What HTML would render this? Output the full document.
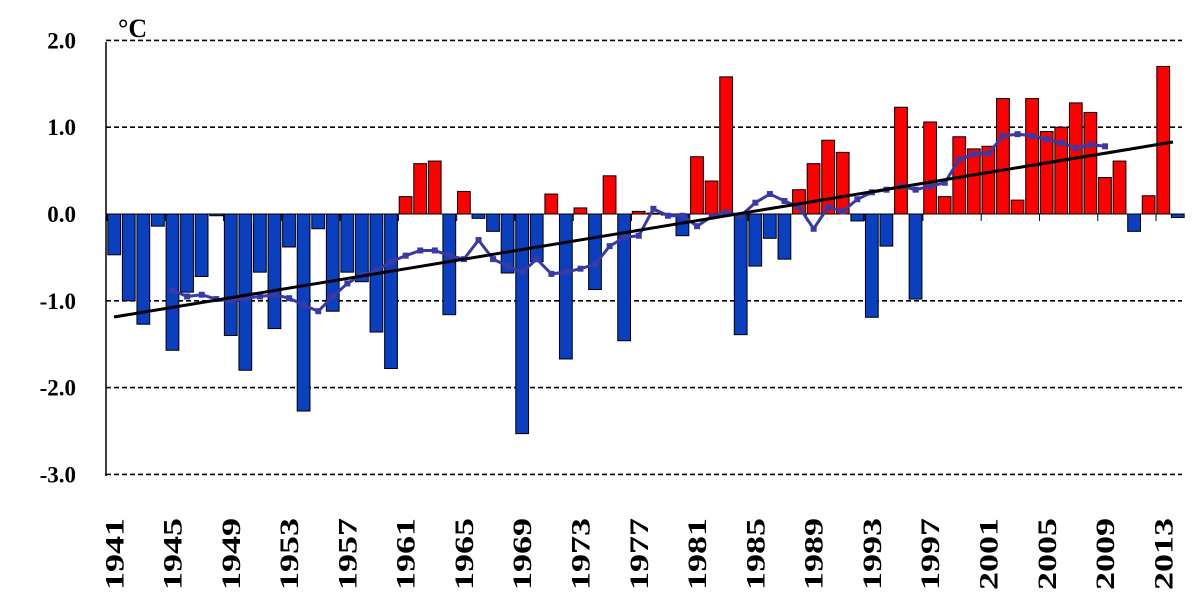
<!DOCTYPE html>
<html><head><meta charset="utf-8"><style>
html,body{margin:0;padding:0;background:#fff;}
svg{display:block;}
text{font-family:"Liberation Serif",serif;font-weight:bold;fill:#000;}
</style></head><body>
<svg id="c" width="1200" height="598" viewBox="0 0 1200 598" xmlns="http://www.w3.org/2000/svg"></svg>
<script>
const svg=document.getElementById('c');
const NS='http://www.w3.org/2000/svg';
function el(t,a,txt){const e=document.createElementNS(NS,t);for(const k in a)e.setAttribute(k,a[k]);if(txt!==undefined)e.textContent=txt;svg.appendChild(e);return e;}
const Z=214,S=86.8;
const y=v=>Z-v*S;
const X0=107,W=14.57;
[2,1,-1,-2,-3].forEach(v=>el('line',{x1:106,x2:1182,y1:y(v),y2:y(v),stroke:'#000','stroke-width':1.6,'stroke-dasharray':'5,3'}));
const vals=[-0.47,-1.0,-1.27,-0.14,-1.57,-0.9,-0.72,-0.02,-1.4,-1.8,-0.67,-1.32,-0.38,-2.27,-0.17,-1.12,-0.67,-0.78,-1.36,-1.78,
0.2,0.58,0.61,-1.16,0.26,-0.05,-0.2,-0.68,-2.53,-0.55,0.23,-1.67,0.07,-0.87,0.44,-1.46,0.03,0.01,-0.01,-0.25,
0.66,0.38,1.58,-1.39,-0.6,-0.28,-0.52,0.28,0.58,0.85,0.71,-0.08,-1.19,-0.37,1.23,-0.98,1.06,0.2,0.89,0.75,
0.78,1.33,0.16,1.33,0.95,1.0,1.28,1.17,0.42,0.61,-0.2,0.21,1.7,-0.04];
vals.forEach((v,i)=>{
  const x=X0+W*i+0.8;
  const top=v>=0?y(v):Z, h=Math.max(Math.abs(v)*S,1);
  el('rect',{x:x,y:top,width:W-1.8,height:h,fill:v>=0?'#ff0000':'#0a3fc0',stroke:'#000','stroke-width':1});
});
el('line',{x1:106,x2:1182,y1:Z,y2:Z,stroke:'#000','stroke-width':1});
for(let i=0;i<=74;i+=4){const x=X0+W*i;el('line',{x1:x,x2:x,y1:Z,y2:Z+7,stroke:'#000','stroke-width':1});}
el('line',{x1:106,x2:106,y1:42,y2:476,stroke:'#000','stroke-width':1.5});
const ma=[-0.88,-0.95,-0.93,-0.98,-1.0,-0.97,-0.95,-0.93,-0.97,-1.05,-1.12,-0.95,-0.8,-0.7,-0.65,-0.55,-0.48,-0.42,-0.42,-0.48,
-0.52,-0.3,-0.52,-0.6,-0.67,-0.52,-0.69,-0.67,-0.63,-0.58,-0.37,-0.27,-0.25,0.06,-0.02,-0.02,-0.14,-0.03,0.02,-0.02,
0.13,0.23,0.15,0.08,-0.17,0.08,0.03,0.17,0.25,0.28,0.32,0.28,0.32,0.36,0.63,0.69,0.7,0.9,0.92,0.9,0.86,0.82,0.76,0.8,0.78];
let pts=ma.map((v,k)=>[X0+W*(k+4)+W/2,y(v)]);
el('polyline',{points:pts.map(p=>p.join(',')).join(' '),fill:'none',stroke:'#3a3aa6','stroke-width':3});
pts.forEach(p=>el('rect',{x:p[0]-3,y:p[1]-3,width:6,height:6,fill:'#3a3aa6'}));
el('line',{x1:114,y1:317,x2:1173,y2:142,stroke:'#000','stroke-width':3});
[[2,'2.0'],[1,'1.0'],[0,'0.0'],[-1,'-1.0'],[-2,'-2.0'],[-3,'-3.0']].forEach(([v,t])=>el('text',{x:76,y:y(v)+8,'text-anchor':'end','font-size':23},t));
el('text',{x:118,y:37,'font-size':26},'°C');
for(let i=0;i<74;i+=4){const cx=X0+W*i+W/2+9;el('text',{x:0,y:0,'font-size':26,'text-anchor':'end',textLength:72,lengthAdjust:'spacingAndGlyphs',transform:`translate(${cx},518) rotate(-90)`},String(1941+i));}
</script>
</body></html>
